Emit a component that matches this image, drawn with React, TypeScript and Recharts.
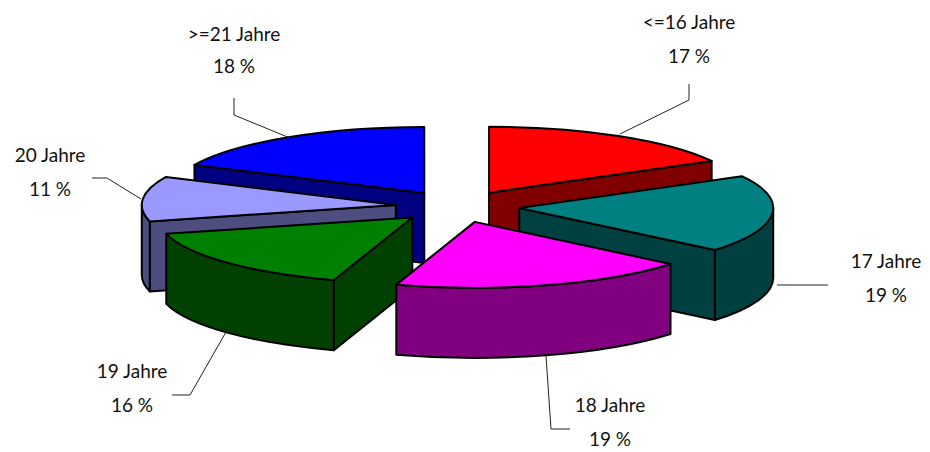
import React from "react";
import { PieChart, Pie } from "recharts";

const categories = ["<=16 Jahre", "17 Jahre", "18 Jahre", "19 Jahre", "20 Jahre", ">=21 Jahre"];
const shares = [17, 19, 19, 16, 11, 18];
const topColors = ["#FF0000", "#008080", "#FF00FF", "#008000", "#9999FF", "#0000FF"];
const wallColors = ["#800000", "#004040", "#800080", "#004000", "#4D4D80", "#000080"];
const paintOrder = [5, 4, 3, 0, 1, 2];

// Layout of the tilted, exploded pie
const WIDTH = 930;
const HEIGHT = 452;
const CX = 457.5;
const CY = 206.5;
const RX = 254;
const RY = 66;
const EXPLODE_X = 62;
const EXPLODE_Y = 16;
const DEPTH = 70;

// Leader lines and label centres, relative to the chart
const leaders: number[][][] = [
  [[620, 134], [689, 100], [689, 84]],
  [[777, 285], [828, 285]],
  [[546, 356], [551, 429], [570, 429]],
  [[226, 332], [190, 395], [172, 395]],
  [[141, 199], [107, 178], [92, 178]],
  [[290, 138], [234, 115], [234, 98]],
];
const labelCentres = [
  [689, 24, 58],
  [886, 263, 297],
  [610, 407, 441],
  [132, 373, 407],
  [50, 157, 191],
  [234, 36, 68],
];

const data = categories.map((name, i) => ({ name, value: shares[i] }));

const rad = (d: number) => (d * Math.PI) / 180;

function wedge(p: any, i: number) {
  const a0 = 90 - p.startAngle;
  const a1 = 90 - p.endAngle;
  const mid = (a0 + a1) / 2;
  const ox = p.cx + EXPLODE_X * Math.sin(rad(mid));
  const oy = p.cy - EXPLODE_Y * Math.cos(rad(mid));
  const pt = (deg: number, dy = 0) => [ox + RX * Math.sin(rad(deg)), oy - RY * Math.cos(rad(deg)) + dy];
  const [sx, sy] = pt(a0);
  const [ex, ey] = pt(a1);
  const large = a1 - a0 > 180 ? 1 : 0;
  const stroke = { stroke: "#000", strokeWidth: 2, strokeLinejoin: "round" as const };
  const walls: React.ReactNode[] = [];

  const radial = (deg: number, key: string) => {
    const [x, y] = pt(deg);
    walls.push(
      <path
        key={key}
        d={`M${ox},${oy} L${x},${y} L${x},${y + DEPTH} L${ox},${oy + DEPTH} Z`}
        fill={wallColors[i]}
        {...stroke}
      />
    );
  };
  if (Math.sin(rad(a0)) < -0.001) radial(a0, "start");
  if (Math.sin(rad(a1)) > 0.001) radial(a1, "end");

  const from = Math.max(a0, 90);
  const to = Math.min(a1, 270);
  if (to > from) {
    const [fx, fy] = pt(from);
    const [tx, ty] = pt(to);
    walls.push(
      <path
        key="outer"
        d={`M${fx},${fy} A${RX},${RY} 0 0 1 ${tx},${ty} L${tx},${ty + DEPTH} A${RX},${RY} 0 0 0 ${fx},${fy + DEPTH} Z`}
        fill={wallColors[i]}
        {...stroke}
      />
    );
  }
  return (
    <g>
      {walls}
      <path
        d={`M${ox},${oy} L${sx},${sy} A${RX},${RY} 0 ${large} 1 ${ex},${ey} Z`}
        fill={topColors[i]}
        {...stroke}
      />
    </g>
  );
}

const renderLabel = (p: any) => {
  const i = p.index;
  const [x, y1, y2] = labelCentres[i];
  const font = { fontFamily: "Lato", fontSize: 19, fill: "#111", textAnchor: "middle" as const, dominantBaseline: "middle" as const };
  return (
    <g key={i}>
      <polyline points={leaders[i].map((q) => q.join(",")).join(" ")} fill="none" stroke="#222" strokeWidth={1} />
      <text x={x} y={y1} {...font}>{p.name}</text>
      <text x={x} y={y2} {...font}>{`${p.value} %`}</text>
    </g>
  );
};

export default function App() {
  return (
    <div style={{ position: "absolute", left: 0, top: 0, width: WIDTH, height: HEIGHT, background: "#fff" }}>
      <PieChart width={WIDTH} height={HEIGHT} margin={{ top: 0, right: 0, bottom: 0, left: 0 }}>
        {paintOrder.map((k) => (
          <Pie
            key={k}
            data={data}
            dataKey="value"
            nameKey="name"
            cx={CX}
            cy={CY}
            innerRadius={0}
            outerRadius={RX}
            startAngle={90}
            endAngle={-270}
            paddingAngle={0}
            stroke="none"
            isAnimationActive={false}
            labelLine={false}
            label={false}
            shape={(p: any) => (p.index === k ? wedge(p, k) : <g />)}
          />
        ))}
        <Pie
          data={data}
          dataKey="value"
          nameKey="name"
          cx={CX}
          cy={CY}
          outerRadius={RX}
          startAngle={90}
          endAngle={-270}
          isAnimationActive={false}
          labelLine={false}
          label={renderLabel}
          shape={() => <g />}
        />
      </PieChart>
    </div>
  );
}
